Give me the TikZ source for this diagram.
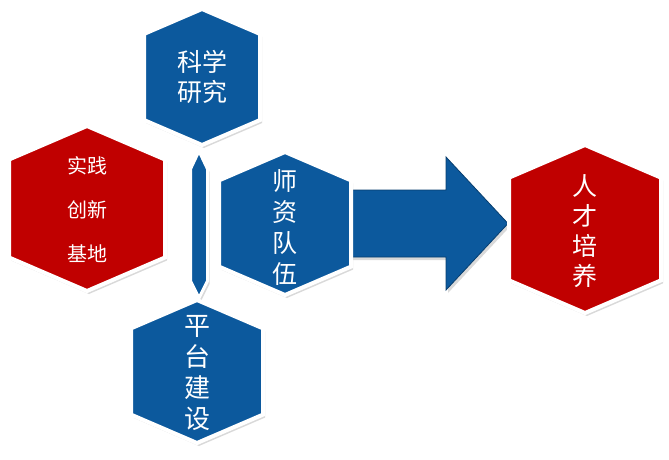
\documentclass[tikz,border=0pt]{standalone}
\usepackage{fontspec}
\newfontfamily\cjk{Noto Sans CJK SC}
\usetikzlibrary{shadows}
\definecolor{hexblue}{RGB}{12,89,157}
\definecolor{hexred}{RGB}{192,0,0}
\tikzset{
  hexbody/.style={draw=white, line width=4pt, line join=miter,
    drop shadow={opacity=0.3, shadow xshift=2pt, shadow yshift=-3pt}},
  hextext/.style={text=white, align=center, inner sep=0pt},
  arrowbody/.style={fill=hexblue, draw=hexblue!70!black, line width=0.8pt,
    drop shadow={opacity=0.3, shadow xshift=2pt, shadow yshift=-3pt}}
}
% #1 name, #2 cx, #3 cy, #4 half width, #5 half height, #6 colour
\newcommand\hexshape[6]{%
  \coordinate (#1) at (#2,#3);
  \path[hexbody, fill=#6]
    ({#2},{#3-#5}) -- ({#2+#4},{#3-#5+0.43*#4}) -- ({#2+#4},{#3+#5-0.43*#4})
    -- ({#2},{#3+#5}) -- ({#2-#4},{#3+#5-0.43*#4}) -- ({#2-#4},{#3-#5+0.43*#4}) -- cycle;
}
\begin{document}
\begin{tikzpicture}[x=1pt,y=-1pt]
\useasboundingbox (0,0) rectangle (669,460);
% top hexagon
\hexshape{sci}{202}{77}{58}{68}{hexblue}
% red left hexagon
\hexshape{base}{87}{208.5}{78}{82.5}{hexred}
% thin connecting lens
\path[hexbody, line width=3pt, fill=hexblue]
  (199,151) -- (207.5,169) -- (207.5,281) -- (199,298) -- (190.5,281) -- (190.5,169) -- cycle;
% arrow
\coordinate (arrtail) at (340,223.5);
\coordinate (arrtip) at (508,223.5);
\path[arrowbody] (340,190) -- (446,190) -- (446,157) -- (arrtip) -- (446,290) -- (446,257) -- (340,257) -- cycle;
% teacher hexagon
\hexshape{team}{285}{223.5}{66}{71.5}{hexblue}
% platform hexagon
\hexshape{plat}{197}{371.5}{66}{71.5}{hexblue}
% talent hexagon
\hexshape{talent}{585}{229}{76}{84}{hexred}
% texts
\node[hextext, font=\cjk\fontsize{25}{30}\selectfont] (scitext) at (sci) {科学\\研究};
\node[hextext, font=\cjk\fontsize{20}{44}\selectfont] (basetext) at ([yshift=-1pt]base) {实践\\创新\\基地};
\node[hextext, font=\cjk\fontsize{25}{31}\selectfont] (teamtext) at ([yshift=-4pt]team) {师\\资\\队\\伍};
\node[hextext, font=\cjk\fontsize{26}{31}\selectfont] (plattext) at ([yshift=-2pt]plat) {平\\台\\建\\设};
\node[hextext, font=\cjk\fontsize{25}{30}\selectfont] (talenttext) at ([yshift=-2pt]talent) {人\\才\\培\\养};
\end{tikzpicture}
\end{document}
